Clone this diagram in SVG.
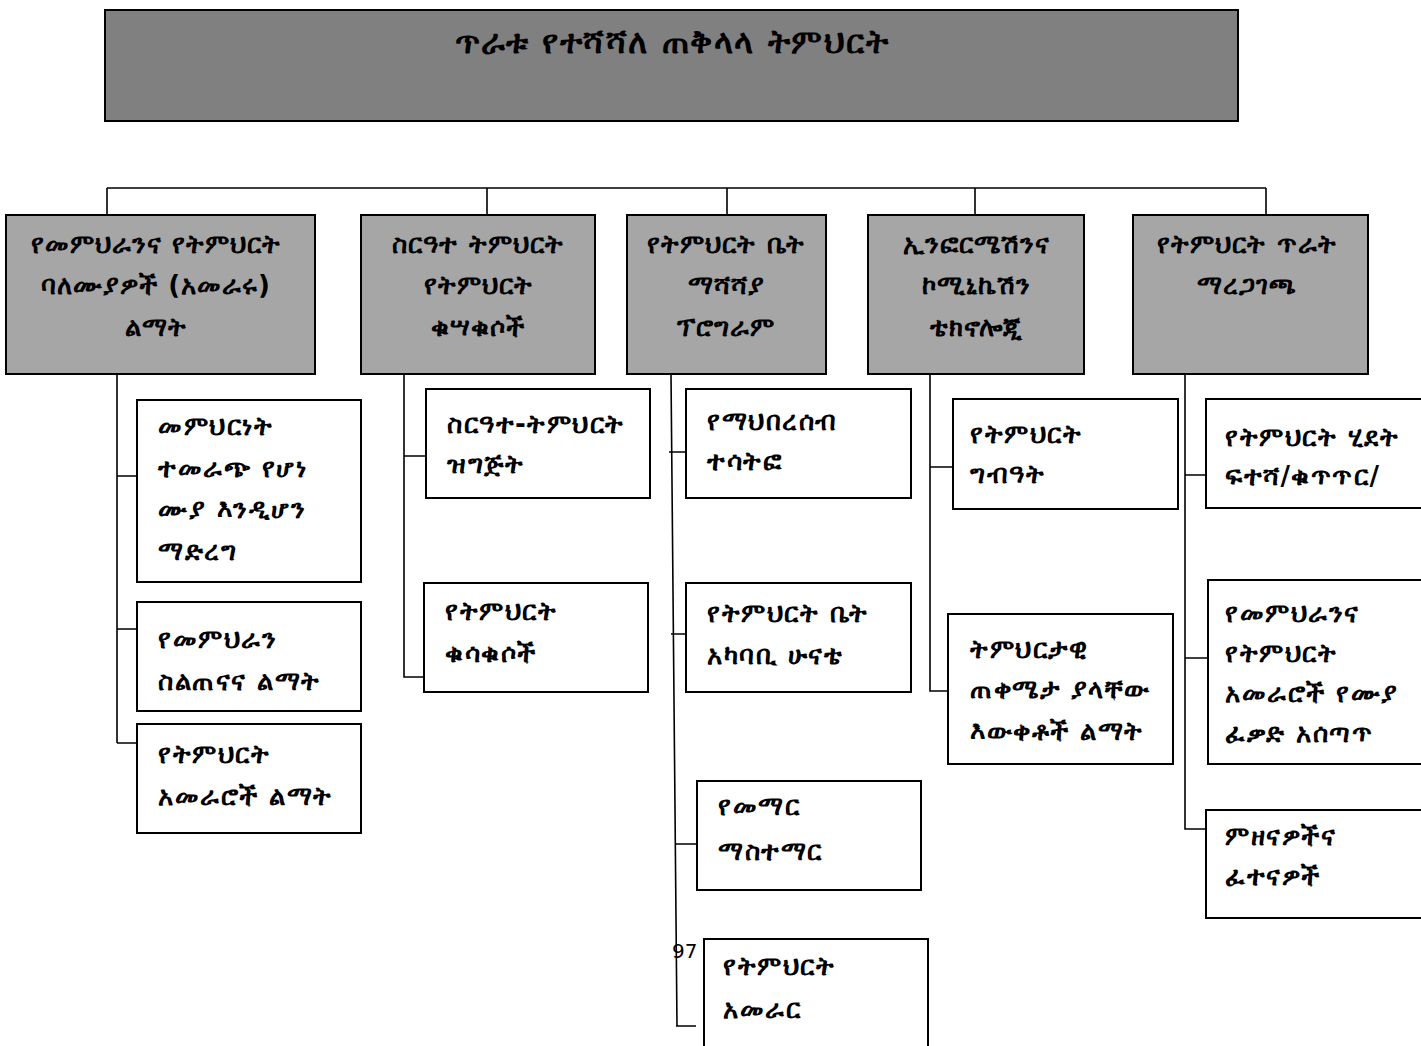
<svg xmlns="http://www.w3.org/2000/svg" width="1421" height="1046" viewBox="0 0 1421 1046">
<style>
.title{fill:#808080;stroke:#000;stroke-width:2}
.l1{fill:#a6a6a6;stroke:#000;stroke-width:2}
.ch{fill:#fff;stroke:#000;stroke-width:2}
.ln{stroke:#000;stroke-width:1.6;fill:none}
text{font-family:"DejaVu Sans","Noto Sans",sans-serif;font-weight:bold;fill:#000}
.tt{font-size:33px;letter-spacing:1.5px;text-anchor:middle}
.t1{font-size:26px;letter-spacing:1px;text-anchor:middle}
.t2{font-size:26px;letter-spacing:1.5px}
.pg{font-size:20px;font-weight:normal;letter-spacing:0;font-family:"DejaVu Sans",sans-serif}
</style>
<rect width="1421" height="1046" fill="#fff"/>
<g id="connectors">
<path class="ln" d="M107 188H1266M107 188V215M487 188V215M727 188V215M975 188V215M1266 188V215"/>
<path class="ln" d="M117 374V743M117 476H137M117 629H137M117 743H137"/>
<path class="ln" d="M404 374V677H424M404 456H426"/>
<path class="ln" d="M671 374L677 1026M669 452H686M671 634H686M675 844H697M676 1026H696"/>
<path class="ln" d="M930 374V691H948M930 467H953"/>
<path class="ln" d="M1185 374V829H1206M1185 475H1206M1185 658H1208"/>
</g>
<g id="root">
<rect class="title" x="105" y="10" width="1133" height="111"/>
<text class="tt" x="672" y="53">ጥራቱ የተሻሻለ ጠቅላላ ትምህርት</text>
</g>
<g id="n1">
<rect class="l1" x="6" y="215" width="309" height="159"/>
<text class="t1" x="156" y="253">የመምህራንና የትምህርት</text>
<text class="t1" x="156" y="294">ባለሙያዎች (አመራሩ)</text>
<text class="t1" x="156" y="336">ልማት</text>
</g>
<g id="n2">
<rect class="l1" x="361" y="215" width="234" height="159"/>
<text class="t1" x="478" y="253">ስርዓተ ትምህርት</text>
<text class="t1" x="478" y="294">የትምህርት</text>
<text class="t1" x="478" y="336">ቁሣቁሶች</text>
</g>
<g id="n3">
<rect class="l1" x="627" y="215" width="199" height="159"/>
<text class="t1" x="726" y="253">የትምህርት ቤት</text>
<text class="t1" x="726" y="294">ማሻሻያ</text>
<text class="t1" x="726" y="336">ፕሮግራም</text>
</g>
<g id="n4">
<rect class="l1" x="868" y="215" width="216" height="159"/>
<text class="t1" x="976" y="253">ኢንፎርሜሽንና</text>
<text class="t1" x="976" y="294">ኮሚኒኬሽን</text>
<text class="t1" x="976" y="336">ቴክኖሎጂ</text>
</g>
<g id="n5">
<rect class="l1" x="1133" y="215" width="235" height="159"/>
<text class="t1" x="1247" y="253">የትምህርት ጥራት</text>
<text class="t1" x="1247" y="294">ማረጋገጫ</text>
</g>
<g id="c1a">
<rect class="ch" x="137" y="400" width="224" height="182"/>
<text class="t2" x="158" y="435">መምህርነት</text>
<text class="t2" x="158" y="477">ተመራጭ የሆነ</text>
<text class="t2" x="158" y="518">ሙያ እንዲሆን</text>
<text class="t2" x="158" y="560">ማድረግ</text>
</g>
<g id="c1b">
<rect class="ch" x="137" y="602" width="224" height="109"/>
<text class="t2" x="158" y="648">የመምህራን</text>
<text class="t2" x="158" y="690">ስልጠናና ልማት</text>
</g>
<g id="c1c">
<rect class="ch" x="137" y="724" width="224" height="109"/>
<text class="t2" x="158" y="763">የትምህርት</text>
<text class="t2" x="158" y="805">አመራሮች ልማት</text>
</g>
<g id="c2a">
<rect class="ch" x="426" y="389" width="224" height="109"/>
<text class="t2" x="447" y="433">ስርዓተ-ትምህርት</text>
<text class="t2" x="447" y="473">ዝግጅት</text>
</g>
<g id="c2b">
<rect class="ch" x="424" y="583" width="224" height="109"/>
<text class="t2" x="445" y="620">የትምህርት</text>
<text class="t2" x="445" y="662">ቁሳቁሶች</text>
</g>
<g id="c3a">
<rect class="ch" x="686" y="389" width="225" height="109"/>
<text class="t2" x="707" y="430">የማህበረሰብ</text>
<text class="t2" x="707" y="470">ተሳትፎ</text>
</g>
<g id="c3b">
<rect class="ch" x="686" y="583" width="225" height="109"/>
<text class="t2" x="707" y="622">የትምህርት ቤት</text>
<text class="t2" x="707" y="664">አካባቢ ሁናቴ</text>
</g>
<g id="c3c">
<rect class="ch" x="697" y="781" width="224" height="109"/>
<text class="t2" x="718" y="815">የመማር</text>
<text class="t2" x="718" y="860">ማስተማር</text>
</g>
<g id="c3d">
<rect class="ch" x="704" y="939" width="224" height="120"/>
<text class="t2" x="723" y="975">የትምህርት</text>
<text class="t2" x="723" y="1018">አመራር</text>
</g>
<g id="c4a">
<rect class="ch" x="953" y="399" width="225" height="110"/>
<text class="t2" x="970" y="443">የትምህርት</text>
<text class="t2" x="970" y="483">ግብዓት</text>
</g>
<g id="c4b">
<rect class="ch" x="948" y="614" width="225" height="150"/>
<text class="t2" x="970" y="658">ትምህርታዊ</text>
<text class="t2" x="970" y="698">ጠቀሜታ ያላቸው</text>
<text class="t2" x="970" y="740">እውቀቶች ልማት</text>
</g>
<g id="c5a">
<rect class="ch" x="1206" y="399" width="230" height="109"/>
<text class="t2" x="1225" y="446">የትምህርት ሂደት</text>
<text class="t2" x="1225" y="485">ፍተሻ/ቁጥጥር/</text>
</g>
<g id="c5b">
<rect class="ch" x="1208" y="580" width="230" height="184"/>
<text class="t2" x="1225" y="622">የመምህራንና</text>
<text class="t2" x="1225" y="662">የትምህርት</text>
<text class="t2" x="1225" y="702">አመራሮች የሙያ</text>
<text class="t2" x="1225" y="742">ፈቃድ አሰጣጥ</text>
</g>
<g id="c5c">
<rect class="ch" x="1206" y="810" width="230" height="108"/>
<text class="t2" x="1225" y="845">ምዘናዎችና</text>
<text class="t2" x="1225" y="885">ፈተናዎች</text>
</g>
<text class="pg" x="672" y="958">97</text>
</svg>
